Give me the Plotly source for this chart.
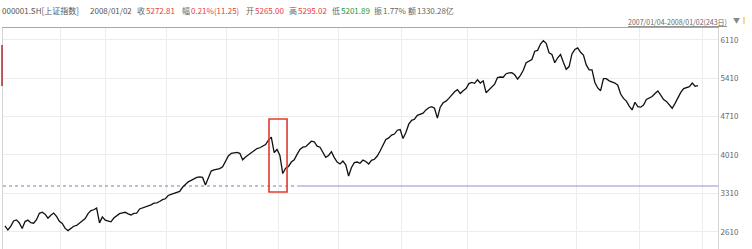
import plotly.graph_objects as go

# ---- data (Shanghai Composite daily close, 2007/01/04 - 2008/01/02, 243 days) ----
closes = [
    2715, 2641, 2707, 2807, 2825, 2770, 2669, 2795, 2821, 2775,
    2765, 2830, 2945, 2965, 2930, 2857, 2910, 2950, 2890, 2800,
    2760, 2670, 2630, 2670, 2710, 2725, 2770, 2810, 2850, 2940,
    2995, 3010, 3040, 2771, 2880, 2820, 2810, 2790, 2860, 2895,
    2940, 2955, 2965, 2935, 2915, 2945, 2950, 3025, 3045, 3060,
    3075, 3100, 3130, 3135, 3160, 3195, 3210, 3270, 3290, 3305,
    3320, 3345, 3420, 3480, 3520, 3545, 3580, 3600, 3610, 3600,
    3461, 3600, 3715, 3735, 3750, 3760, 3795, 3890, 3990, 4040,
    4050, 4055, 4040, 3920, 3970, 4010, 4050, 4080, 4125, 4140,
    4165, 4200, 4280, 4334, 4053, 4109, 4000, 3670, 3767, 3800,
    3880, 3920, 4020, 4110, 4150, 4160, 4210, 4260, 4250, 4170,
    4150, 4050, 3966, 4000, 4068, 3960, 3880, 3844, 3899, 3830,
    3625, 3780, 3870, 3880, 3857, 3915, 3890, 3845, 3910, 3930,
    3990, 4080, 4190, 4290, 4320, 4370, 4390, 4460, 4471, 4310,
    4420, 4570, 4640, 4660, 4730, 4750, 4770, 4830, 4870, 4890,
    4860, 4680, 4880, 4960, 4990, 5040, 5110, 5160, 5200, 5130,
    5180, 5218, 5310, 5330, 5315, 5380, 5320, 5360, 5144, 5190,
    5240, 5300, 5420, 5430, 5425, 5490, 5505, 5510, 5470, 5390,
    5460, 5552, 5690, 5720, 5750, 5900, 5915, 6030, 6092, 6044,
    5870, 5840, 5690, 5780, 5840, 5700, 5571, 5620, 5850, 5930,
    5960, 5880, 5830, 5650, 5560, 5560, 5330, 5230, 5180, 5400,
    5400, 5360, 5340, 5320, 5280, 5120, 5040, 4990, 4900, 4829,
    4970, 4890, 4880, 4920, 5020, 5050, 5075, 5130, 5175, 5100,
    5020, 4985, 4920, 4860, 4950, 5050, 5150, 5220, 5240, 5255,
    5320, 5261, 5273,
]
days = list(range(len(closes)))

y_ticks = [2610, 3310, 4010, 4710, 5410, 6110]
y_tick_labels = [str(v) for v in y_ticks]
month_breaks = [19.5, 35, 56.5, 77.5, 95.5, 116.5, 138.5, 161.5, 199.5, 221.5, 243.5]

ref_level = 3443       # horizontal reference line
ref_split = 102        # where dotted part turns solid
box_days = [92.2, 98.5]  # highlighted period (red box)
box_vals = [3334, 4664]

header = [
    ("000001.SH[上证指数]", 0, "#555555"),
    ("2008/01/02", 88, "#555555"),
    ("收", 135, "#666666"), ("5272.81", 144, "#e8403a"),
    ("幅", 180, "#666666"), ("0.21%(11.25)", 189, "#e8403a"),
    ("开", 244, "#666666"), ("5265.00", 253, "#e8403a"),
    ("高", 287, "#666666"), ("5295.02", 296, "#e8403a"),
    ("低", 330, "#666666"), ("5201.89", 339, "#1e9a3c"),
    ("振", 372, "#666666"), ("1.77%", 381, "#666666"),
    ("额", 406, "#666666"), ("1330.28亿", 415, "#666666"),
]
range_text = "2007/01/04-2008/01/02(243日)"

# ---- layout geometry ----
W, H = 752, 249
L, R, T, B = 3, 34, 28, 0
pw, ph = W - L - R, H - T - B


def px(x):
    return (x - L) / pw


def py(y):
    return (H - B - y) / ph


FONT = "Microsoft YaHei, Noto Sans CJK SC, Noto Sans, sans-serif"

fig = go.Figure()

# reference level: dotted then solid
fig.add_trace(go.Scatter(x=[-0.7, ref_split], y=[ref_level, ref_level], mode="lines",
                         line=dict(color="#7f7fb8", width=1, dash="dot"),
                         hoverinfo="skip", showlegend=False))
fig.add_trace(go.Scatter(x=[ref_split, 249], y=[ref_level, ref_level], mode="lines",
                         line=dict(color="#8f8fd6", width=1.2),
                         hoverinfo="skip", showlegend=False))

fig.add_trace(go.Scatter(x=days, y=closes, mode="lines",
                         line=dict(color="#111111", width=1.3),
                         showlegend=False))

annotations = []
for txt, x, col in header:
    annotations.append(dict(text=txt, x=px(x), y=py(10), xref="paper", yref="paper",
                            xanchor="left", yanchor="middle", showarrow=False,
                            font=dict(family=FONT, size=8, color=col)))
annotations.append(dict(text="<u>" + range_text + "</u>", x=px(729), y=py(21.5),
                        xref="paper", yref="paper", xanchor="right", yanchor="middle",
                        showarrow=False, font=dict(family=FONT, size=7, color="#666666")))
annotations.append(dict(text="▼", x=px(736), y=py(20.5), xref="paper", yref="paper",
                        xanchor="center", yanchor="middle", showarrow=False,
                        font=dict(family=FONT, size=7, color="#888888")))

shapes = [
    dict(type="rect", xref="x", yref="y", x0=box_days[0], x1=box_days[1],
         y0=box_vals[0], y1=box_vals[1], line=dict(color="#e03c31", width=1.6)),
    dict(type="line", xref="paper", yref="paper", x0=px(2), x1=px(2),
         y0=py(45), y1=py(86), line=dict(color="#b02a2a", width=1.5)),
    dict(type="line", xref="paper", yref="paper", x0=px(744), x1=px(744),
         y0=py(17), y1=py(24), line=dict(color="#f0d060", width=1.5)),
]

fig.update_layout(
    width=W, height=H,
    margin=dict(l=L, r=R, t=T, b=B, pad=0),
    paper_bgcolor="white", plot_bgcolor="white",
    annotations=annotations, shapes=shapes,
    xaxis=dict(range=[-0.7, 249], tickvals=month_breaks, showticklabels=False,
               showgrid=True, gridcolor="#ececec", gridwidth=1, zeroline=False,
               showline=True, side="top", linecolor="#a8a8a8", linewidth=1, ticks=""),
    yaxis=dict(range=[2295, 6323], side="right", tickvals=y_ticks, ticktext=y_tick_labels,
               showgrid=True, gridcolor="#ececec", gridwidth=1, zeroline=False,
               showline=True, mirror=True, linecolor="#d4d4d4", linewidth=1, ticks="",
               tickfont=dict(family=FONT, size=8, color="#666666")),
    hovermode=False,
)

fig.write_html("out.html")
